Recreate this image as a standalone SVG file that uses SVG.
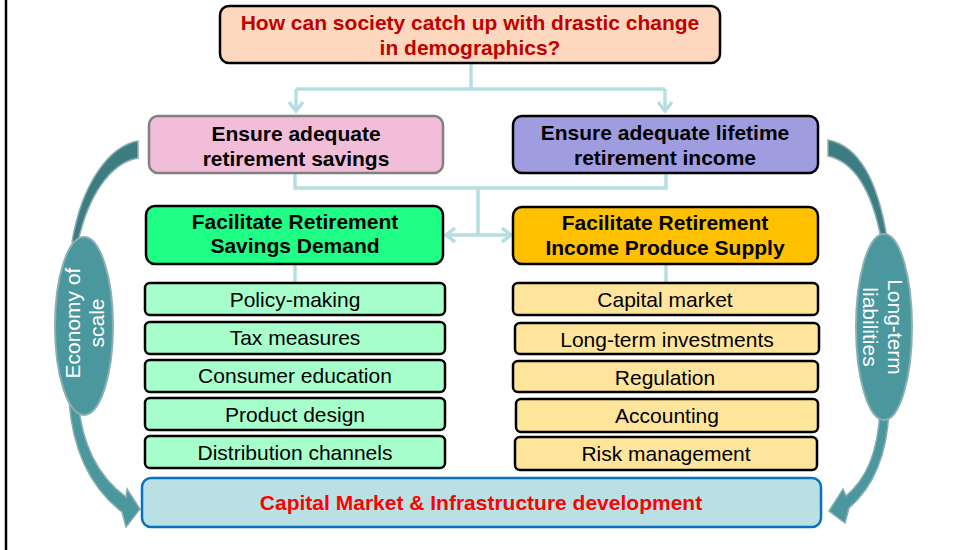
<svg xmlns="http://www.w3.org/2000/svg" width="957" height="550" viewBox="0 0 957 550">
<style>
text{font-family:"Liberation Sans",Arial,sans-serif;text-anchor:middle}
.b{font-weight:bold;font-size:21px;fill:#000}
.r{font-size:21px;fill:#000}
.w{font-size:21px;fill:#fff}
.box{stroke:#000;stroke-width:2.5}
.g{fill:#a7ffcc}
.o{fill:#ffe59b}
.con{fill:none;stroke:#b7dee2;stroke-width:3.5}
.wing{fill:#3d7d82;stroke:#8aaeb1;stroke-width:1.5}
.arw{fill:#4a979e;stroke:#8aaeb1;stroke-width:1.5}
</style>
<defs>
<marker id="ch" viewBox="0 0 12 16" refX="10" refY="8" markerWidth="12" markerHeight="16" markerUnits="userSpaceOnUse" orient="auto-start-reverse">
<path d="M1,1 L10,8 L1,15" fill="none" stroke="#b7dee2" stroke-width="3.5"/>
</marker>
</defs>
<line x1="6" y1="0" x2="6" y2="550" stroke="#000" stroke-width="2.5"/>

<g id="connectors">
<path class="con" d="M471,63 V89"/>
<path class="con" d="M296,89 H665"/>
<path class="con" d="M296,89 V111" marker-end="url(#ch)"/>
<path class="con" d="M665,89 V111" marker-end="url(#ch)"/>
<path class="con" d="M295,173 V188 H666 V173"/>
<path class="con" d="M478,188 V235"/>
<path class="con" d="M446,235 H511" marker-start="url(#ch)" marker-end="url(#ch)"/>
<path class="con" d="M295,264 V284"/>
<path class="con" d="M666,264 V284"/>
</g>

<g id="left-cycle">
<path class="wing" d="M138,141 C110,146 82,182 72,242 L78,242 C88,196 110,163 138,158 Z"/>
<path class="arw" d="M78,400 C82,448 100,478 126,497 L127,489 L140,509 L126,527 L122,512 C96,492 73,458 69,400 Z"/>
<ellipse cx="84" cy="326" rx="29" ry="89" fill="#4a979e" stroke="#8aaeb1" stroke-width="2"/>
<text class="w" transform="translate(84,323) rotate(-90)"><tspan x="0" y="-4">Economy of</tspan><tspan x="0" y="20">scale</tspan></text>
</g>

<g id="right-cycle">
<path class="wing" d="M828,140 C860,146 878,182 887,238 L881,238 C872,192 855,162 828,156 Z"/>
<path class="arw" d="M880,410 C878,455 865,480 846,496 L843,489 L829,511 L845,523 L849,508 C870,490 887,460 889,410 Z"/>
<ellipse cx="884" cy="327" rx="28" ry="93" fill="#4a979e" stroke="#8aaeb1" stroke-width="2"/>
<text class="w" transform="translate(884,327) rotate(90)"><tspan x="0" y="-4">Long-term</tspan><tspan x="0" y="21">liabilities</tspan></text>
</g>

<g id="question">
<rect class="box" x="220" y="6" width="500" height="57" rx="9" fill="#fdd8be"/>
<text class="b" style="fill:#c00000"><tspan x="470" y="30">How can society catch up with drastic change</tspan><tspan x="470" y="55">in demographics?</tspan></text>
</g>

<g id="savings">
<rect x="149" y="116" width="294" height="57" rx="9" fill="#f1bdd9" stroke="#808080" stroke-width="2.5"/>
<text class="b"><tspan x="296" y="141">Ensure adequate</tspan><tspan x="296" y="166">retirement savings</tspan></text>
</g>

<g id="income">
<rect class="box" x="513" y="116" width="305" height="57" rx="9" fill="#9f9de0"/>
<text class="b"><tspan x="665" y="140">Ensure adequate lifetime</tspan><tspan x="665" y="165">retirement income</tspan></text>
</g>

<g id="demand">
<rect class="box" x="146" y="206" width="297" height="58" rx="9" fill="#1fff86"/>
<text class="b"><tspan x="295" y="229">Facilitate Retirement</tspan><tspan x="295" y="253">Savings Demand</tspan></text>
</g>

<g id="supply">
<rect class="box" x="513" y="207" width="305" height="57" rx="9" fill="#ffc000"/>
<text class="b"><tspan x="665" y="230">Facilitate Retirement</tspan><tspan x="665" y="255">Income Produce Supply</tspan></text>
</g>

<g id="policy"><rect class="box g" x="145" y="283" width="300" height="32" rx="5"/><text class="r" x="295" y="307">Policy-making</text></g>
<g id="tax"><rect class="box g" x="145" y="322" width="300" height="32" rx="5"/><text class="r" x="295" y="345">Tax measures</text></g>
<g id="education"><rect class="box g" x="145" y="360" width="300" height="32" rx="5"/><text class="r" x="295" y="383">Consumer education</text></g>
<g id="product"><rect class="box g" x="145" y="398" width="300" height="32" rx="5"/><text class="r" x="295" y="422">Product design</text></g>
<g id="distribution"><rect class="box g" x="145" y="436" width="300" height="32" rx="5"/><text class="r" x="295" y="460">Distribution channels</text></g>

<g id="capital"><rect class="box o" x="513" y="283" width="305" height="32" rx="5"/><text class="r" x="665" y="307">Capital market</text></g>
<g id="longterm"><rect class="box o" x="515" y="323" width="304" height="31" rx="5"/><text class="r" x="667" y="347">Long-term investments</text></g>
<g id="regulation"><rect class="box o" x="513" y="361" width="305" height="31" rx="5"/><text class="r" x="665" y="385">Regulation</text></g>
<g id="accounting"><rect class="box o" x="516" y="399" width="302" height="33" rx="5"/><text class="r" x="667" y="423">Accounting</text></g>
<g id="risk"><rect class="box o" x="515" y="437" width="302" height="33" rx="5"/><text class="r" x="666" y="461">Risk management</text></g>

<g id="infrastructure">
<rect x="142" y="478" width="679" height="49" rx="9" fill="#b9e1e4" stroke="#0a70c0" stroke-width="2.5"/>
<text class="b" x="481" y="510" style="fill:#ff0000">Capital Market &amp; Infrastructure development</text>
</g>
</svg>
